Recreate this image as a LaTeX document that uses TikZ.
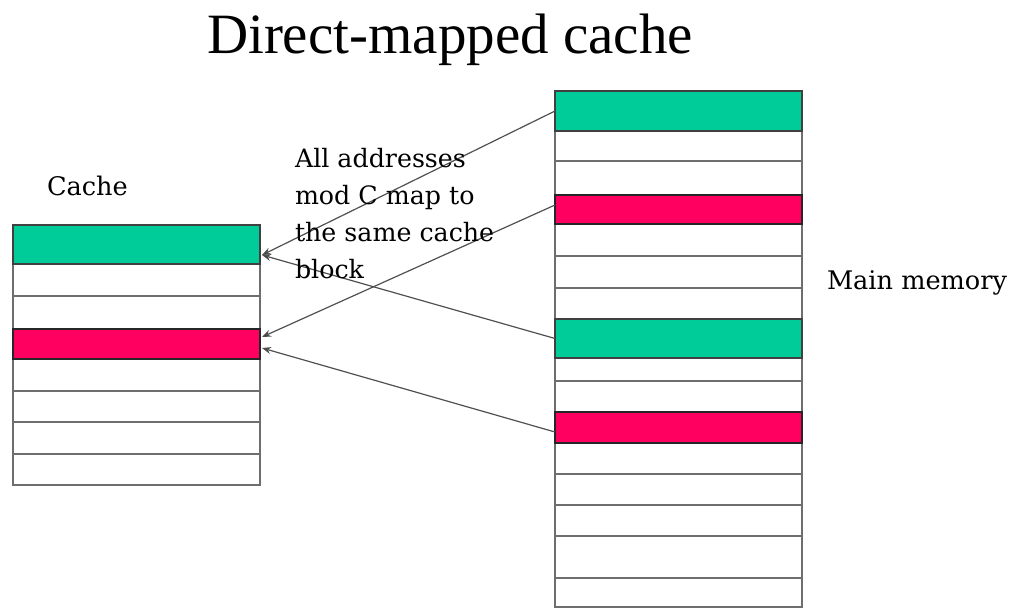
\documentclass[tikz,border=0pt]{standalone}
\usepackage{fontspec}
\setmainfont{Liberation Serif}
\newfontfamily\labelfont{DejaVu Serif}
\usetikzlibrary{arrows.meta,calc}
\definecolor{blkgreen}{RGB}{0,204,153}
\definecolor{blkpink}{RGB}{255,0,96}
\definecolor{rulegray}{RGB}{110,110,110}
\definecolor{linkgray}{RGB}{80,80,80}
\tikzset{
  cell/.style={draw=rulegray, line width=1.6pt, fill=white, inner sep=0pt, outer sep=0pt,
    anchor=north west, minimum width=247pt},
  hitgreen/.style={cell, fill=blkgreen, draw=black!75},
  hitpink/.style={cell, fill=blkpink, draw=black!85},
  mapline/.style={draw=linkgray, line width=1.2pt,
    -{Stealth[length=9pt,width=7pt,fill=black]}},
  lbl/.style={inner sep=0pt, outer sep=0pt, anchor=base west},
}
\begin{document}
\begin{tikzpicture}[x=1pt,y=-1pt]
\useasboundingbox (0,0) rectangle (1014,608);

% title
\node[lbl, font=\fontsize{57}{60}\selectfont] (title) at (207,53) {Direct-mapped cache};

% cache blocks
\node[cell, minimum height=32pt] (c2) at (13,264) {};
\node[cell, minimum height=33pt] (c3) at (13,296) {};
\node[cell, minimum height=32pt] (c5) at (13,359) {};
\node[cell, minimum height=31pt] (c6) at (13,391) {};
\node[cell, minimum height=32pt] (c7) at (13,422) {};
\node[cell, minimum height=31pt] (c8) at (13,454) {};
\node[hitgreen, minimum height=39pt] (c1) at (13,225) {};
\node[hitpink, minimum height=30pt] (c4) at (13,329) {};
\node[lbl, font=\labelfont\fontsize{25.6}{30}\selectfont] (cachelbl) at (47,195) {Cache};

% main memory blocks
\node[cell, minimum height=30pt] (m2) at (555,131) {};
\node[cell, minimum height=34pt] (m3) at (555,161) {};
\node[cell, minimum height=32pt] (m5) at (555,224) {};
\node[cell, minimum height=32pt] (m6) at (555,256) {};
\node[cell, minimum height=31pt] (m7) at (555,288) {};
\node[cell, minimum height=23pt] (m9) at (555,358) {};
\node[cell, minimum height=31pt] (m10) at (555,381) {};
\node[cell, minimum height=31pt] (m12) at (555,443) {};
\node[cell, minimum height=31pt] (m13) at (555,474) {};
\node[cell, minimum height=31pt] (m14) at (555,505) {};
\node[cell, minimum height=42pt] (m15) at (555,536) {};
\node[cell, minimum height=29pt] (m16) at (555,578) {};
\node[hitgreen, minimum height=40pt] (m1) at (555,91) {};
\node[hitpink, minimum height=29pt] (m4) at (555,195) {};
\node[hitgreen, minimum height=39pt] (m8) at (555,319) {};
\node[hitpink, minimum height=31pt] (m11) at (555,412) {};
\node[lbl, font=\labelfont\fontsize{25.6}{30}\selectfont] (memlbl) at (827,289) {Main memory};

% arrow end points on the cache blocks
\coordinate (greentip) at ($(c1.north east)+(2,30)$);
\coordinate (pinktipA) at ($(c4.north east)+(2,8)$);
\coordinate (pinktipB) at ($(c4.north east)+(2,19)$);
\coordinate (pinkfromA) at ($(m4.north west)+(0,10)$);
\coordinate (pinkfromB) at ($(m11.north west)+(0,20)$);

% mapping of memory blocks onto the cache
\draw[mapline] (m1.west) -- (greentip);
\draw[mapline] (m8.west) -- (greentip);
\draw[mapline] (pinkfromA) -- (pinktipA);
\draw[mapline] (pinkfromB) -- (pinktipB);

% explanatory note (baseline of its last line)
\node[lbl, align=left, font=\labelfont\fontsize{25.3}{37}\selectfont] (note) at (295,278)
  {All addresses\\ mod C map to\\ the same cache\\ block};
\end{tikzpicture}
\end{document}
